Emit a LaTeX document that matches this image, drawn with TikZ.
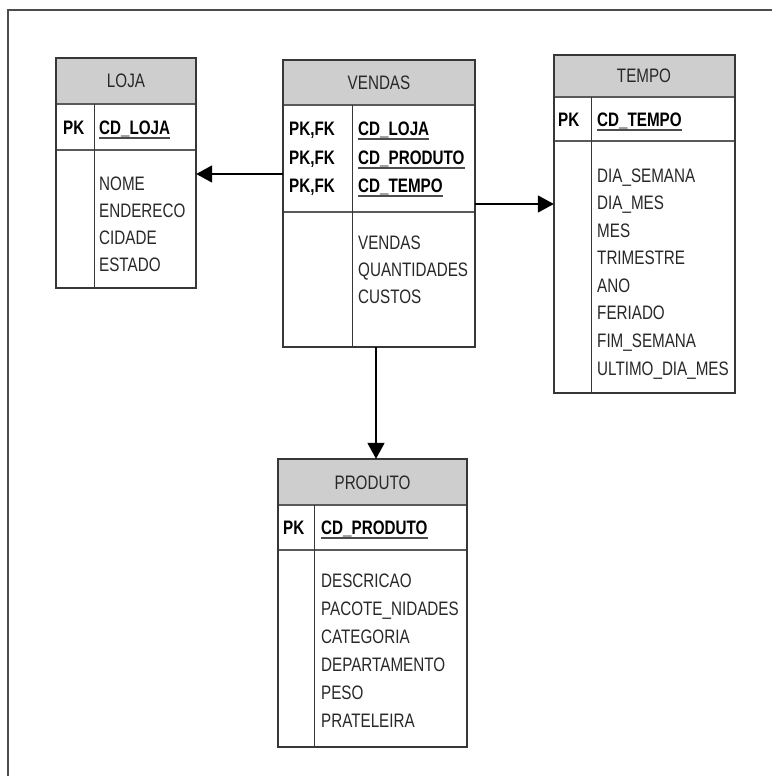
\documentclass[tikz,border=0pt]{standalone}
\usepackage{fontspec}
\setmainfont{Liberation Sans}[FakeStretch=0.78]
\usetikzlibrary{arrows.meta,fit}
\definecolor{hdrfill}{RGB}{206,206,206}
\definecolor{edgecol}{RGB}{55,55,55}
\definecolor{rowline}{RGB}{90,90,90}
\definecolor{txtcol}{RGB}{40,40,40}
\newcommand\erdtable[8]{%
  % #1 name, #2 x1, #3 y1, #4 x2, #5 y2, #6 header bottom, #7 key row bottom, #8 column divider
  \fill[white] (#2,#3) rectangle (#4,#5);
  \fill[hdrfill] (#2,#3) rectangle (#4,#6);
  \draw[rowsep] (#2,#6) -- (#4,#6);
  \draw[rowsep] (#2,#7) -- (#4,#7);
  \draw[colsep] (#8,#6) -- (#8,#5);
  \draw[tblborder] (#2,#3) rectangle (#4,#5);
  \node[fit={(#2,#3) (#4,#5)}, inner sep=0pt] (#1) {};
}
\begin{document}
\begin{tikzpicture}[x=1pt,y=-1pt,
  font=\fontsize{19.5}{22}\selectfont,
  tblborder/.style={draw=edgecol, line width=1.4pt},
  rowsep/.style={draw=rowline, line width=1.6pt},
  colsep/.style={draw=edgecol, line width=1pt},
  conn/.style={draw=black, line width=1.8pt, -{Triangle[length=16pt,width=17pt]}},
  ttl/.style={anchor=base, inner sep=0pt, text=txtcol},
  attr/.style={anchor=base west, inner sep=0pt, text=txtcol},
  pk/.style={anchor=base west, inner sep=0pt, text=black, font=\fontsize{19.5}{22}\selectfont\bfseries},
  ulinestyle/.style={draw=black!70, line width=1.5pt},
  frame/.style={draw=black!70, line width=1.5pt}]
\useasboundingbox (0,0) rectangle (772,776);
\draw[frame] (8,776) -- (8,10) -- (772,10);

% tables
\erdtable{loja}{56}{58}{196}{288}{104}{150}{94}
\erdtable{vendas}{283}{60}{475}{347}{105}{212}{352}
\erdtable{tempo}{554}{55}{735}{393}{97}{141}{591}
\erdtable{produto}{278}{459}{467}{747}{505}{550}{314}

% LOJA
\node[ttl] (lojaT) at (126,88) {LOJA};
\node[pk] (lojaPK) at (63,134) {PK};
\node[pk] (lojaK) at (99,134) {CD\_LOJA};
\draw[ulinestyle] ([yshift=-4pt]lojaK.base west) -- ([yshift=-4pt]lojaK.base east);
\node[attr] (lojaA1) at (99,190) {NOME};
\node[attr] (lojaA2) at (99,217) {ENDERECO};
\node[attr] (lojaA3) at (99,244) {CIDADE};
\node[attr] (lojaA4) at (99,271) {ESTADO};

% VENDAS
\node[ttl] (vendT) at (379,89.5) {VENDAS};
\node[pk] (vendP1) at (289,135) {PK,FK};
\node[pk] (vendP2) at (289,164) {PK,FK};
\node[pk] (vendP3) at (289,192) {PK,FK};
\node[pk] (vendK1) at (358,135) {CD\_LOJA};
\node[pk] (vendK2) at (358,164) {CD\_PRODUTO};
\node[pk] (vendK3) at (358,192) {CD\_TEMPO};
\draw[ulinestyle] ([yshift=-4pt]vendK1.base west) -- ([yshift=-4pt]vendK1.base east);
\draw[ulinestyle] ([yshift=-4pt]vendK2.base west) -- ([yshift=-4pt]vendK2.base east);
\draw[ulinestyle] ([yshift=-4pt]vendK3.base west) -- ([yshift=-4pt]vendK3.base east);
\node[attr] (vendA1) at (358,249) {VENDAS};
\node[attr] (vendA2) at (358,276) {QUANTIDADES};
\node[attr] (vendA3) at (358,303) {CUSTOS};

% TEMPO
\node[ttl] (tempT) at (644,82) {TEMPO};
\node[pk] (tempPK) at (558,126) {PK};
\node[pk] (tempK) at (597,126) {CD\_TEMPO};
\draw[ulinestyle] ([yshift=-4pt]tempK.base west) -- ([yshift=-4pt]tempK.base east);
\node[attr] (tempA1) at (597,182) {DIA\_SEMANA};
\node[attr] (tempA2) at (597,209.6) {DIA\_MES};
\node[attr] (tempA3) at (597,237.1) {MES};
\node[attr] (tempA4) at (597,264.7) {TRIMESTRE};
\node[attr] (tempA5) at (597,292.3) {ANO};
\node[attr] (tempA6) at (597,319.9) {FERIADO};
\node[attr] (tempA7) at (597,347.4) {FIM\_SEMANA};
\node[attr] (tempA8) at (597,375) {ULTIMO\_DIA\_MES};

% PRODUTO
\node[ttl] (prodT) at (372.5,489) {PRODUTO};
\node[pk] (prodPK) at (283,534) {PK};
\node[pk] (prodK) at (321,534) {CD\_PRODUTO};
\draw[ulinestyle] ([yshift=-4pt]prodK.base west) -- ([yshift=-4pt]prodK.base east);
\node[attr] (prodA1) at (321,587) {DESCRICAO};
\node[attr] (prodA2) at (321,615) {PACOTE\_NIDADES};
\node[attr] (prodA3) at (321,643) {CATEGORIA};
\node[attr] (prodA4) at (321,671) {DEPARTAMENTO};
\node[attr] (prodA5) at (321,699) {PESO};
\node[attr] (prodA6) at (321,727) {PRATELEIRA};

% connectors
\coordinate (yLoja) at (0,174);
\coordinate (yTempo) at (0,204);
\coordinate (xProd) at (376,0);
\draw[conn] (vendas.west |- yLoja) -- (loja.east |- yLoja);
\draw[conn] (vendas.east |- yTempo) -- (tempo.west |- yTempo);
\draw[conn] (vendas.south -| xProd) -- (produto.north -| xProd);
\end{tikzpicture}
\end{document}
